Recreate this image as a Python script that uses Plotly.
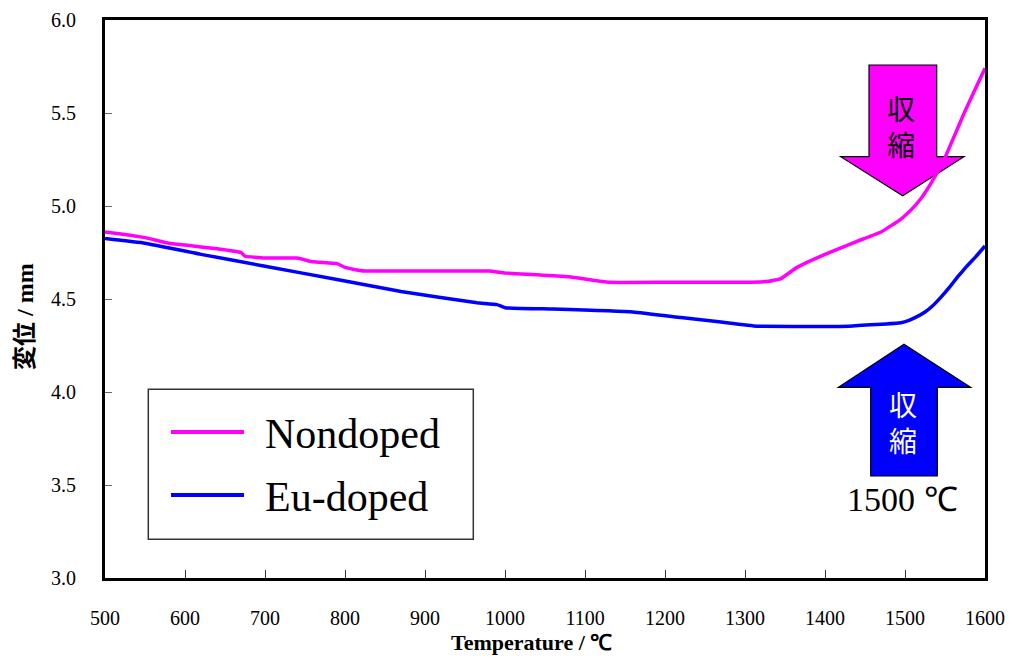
import plotly.graph_objects as go

# ---- data ----
nondoped_T = [500, 520, 550, 580, 600, 640, 670, 675, 700, 740, 760, 790, 800, 810, 825, 830,
              900, 980, 1000, 1040, 1080, 1130, 1200, 1300, 1330, 1345, 1365, 1400, 1440, 1470,
              1495, 1510, 1520, 1535, 1550, 1562, 1575, 1588, 1600]
nondoped_v = [4.86, 4.85, 4.83, 4.80, 4.79, 4.77, 4.75, 4.73, 4.72, 4.72, 4.70, 4.69, 4.67, 4.66,
              4.65, 4.65, 4.65, 4.65, 4.64, 4.63, 4.62, 4.59, 4.59, 4.59, 4.595, 4.61, 4.67, 4.74,
              4.81, 4.86, 4.93, 4.99, 5.04, 5.14, 5.26, 5.38, 5.51, 5.63, 5.74]

eu_T = [500, 550, 620, 700, 790, 870, 965, 990, 1000, 1060, 1160, 1220, 1270, 1315, 1430, 1495,
        1505, 1515, 1525, 1535, 1545, 1556, 1566, 1577, 1588, 1600]
eu_v = [4.825, 4.80, 4.74, 4.676, 4.605, 4.54, 4.48, 4.47, 4.453, 4.446, 4.43, 4.40, 4.376,
        4.354, 4.354, 4.372, 4.385, 4.405, 4.43, 4.465, 4.51, 4.565, 4.62, 4.675, 4.725, 4.785]

x_ticks = [500, 600, 700, 800, 900, 1000, 1100, 1200, 1300, 1400, 1500, 1600]
y_ticks = [3.0, 3.5, 4.0, 4.5, 5.0, 5.5, 6.0]
series_names = ["Nondoped", "Eu-doped"]
series_colors = ["#FF00FF", "#0000FF"]

# ---- layout geometry (pixels) ----
W, H = 1012, 661
L, R, T, B = 105, 985, 20, 578


def px(x):
    return (x - L) / (R - L)


def py(y):
    return (B - y) / (B - T)


SERIF = "Liberation Serif, Times New Roman, serif"
CJK = "Noto Sans CJK JP, sans-serif"

fig = go.Figure()
fig.add_trace(go.Scatter(x=nondoped_T, y=nondoped_v, mode="lines", name=series_names[0],
                         line=dict(color=series_colors[0], width=3.5, shape="spline",
                                   smoothing=0.3), showlegend=False))
fig.add_trace(go.Scatter(x=eu_T, y=eu_v, mode="lines", name=series_names[1],
                         line=dict(color=series_colors[1], width=3.5, shape="spline",
                                   smoothing=0.3), showlegend=False))

shapes = []
annotations = []


def path_px(points):
    return "M" + " L".join(f"{px(a):.5f},{py(b):.5f}" for a, b in points) + " Z"


# magenta down arrow
shapes.append(dict(type="path", xref="paper", yref="paper",
                   path=path_px([(869, 65), (936.7, 65), (936.7, 156.7), (964, 156.7),
                                 (902.7, 195.7), (840.7, 156.7), (869, 156.7)]),
                   fillcolor="#FF00FF", line=dict(color="black", width=1.2), layer="below"))
# blue up arrow
shapes.append(dict(type="path", xref="paper", yref="paper",
                   path=path_px([(904, 344.3), (970.7, 387.3), (937.3, 387.3), (937.3, 476),
                                 (870.7, 476), (870.7, 387.3), (838.3, 387.3)]),
                   fillcolor="#0000FF", line=dict(color="black", width=1.2), layer="below"))

annotations.append(dict(text="収<br>縮", x=px(901), y=py(126), xref="paper", yref="paper",
                        xanchor="center", yanchor="middle", showarrow=False,
                        font=dict(family=CJK, size=28, color="black")))
annotations.append(dict(text="収<br>縮", x=px(903), y=py(422), xref="paper", yref="paper",
                        xanchor="center", yanchor="middle", showarrow=False,
                        font=dict(family=CJK, size=28, color="white")))
annotations.append(dict(text="1500 ℃", x=px(902), y=py(499), xref="paper", yref="paper",
                        xanchor="center", yanchor="middle", showarrow=False,
                        font=dict(family=SERIF, size=34, color="black")))

# manual legend
shapes.append(dict(type="rect", xref="paper", yref="paper",
                   x0=px(148.3), x1=px(473.3), y0=py(539.3), y1=py(389.3),
                   fillcolor="white", line=dict(color="#333333", width=1.5)))
for name, color, ly in zip(series_names, series_colors, [432, 495]):
    shapes.append(dict(type="line", xref="paper", yref="paper",
                       x0=px(171), x1=px(244), y0=py(ly), y1=py(ly),
                       line=dict(color=color, width=4)))
    annotations.append(dict(text=name, x=px(263), y=py(ly + 2), xref="paper", yref="paper",
                            xanchor="left", yanchor="middle", showarrow=False,
                            font=dict(family=SERIF, size=42, color="black")))

# axis titles
annotations.append(dict(text="<b>Temperature / ℃</b>", x=px(531), y=py(642), xref="paper",
                        yref="paper", xanchor="center", yanchor="middle", showarrow=False,
                        font=dict(family=SERIF, size=22, color="black")))
annotations.append(dict(text="<b>変位 / mm</b>", x=px(25), y=py(317), xref="paper",
                        yref="paper", xanchor="center", yanchor="middle", showarrow=False,
                        textangle=-90, font=dict(family=SERIF + ", " + CJK, size=24,
                                                 color="black")))

fig.update_layout(
    width=W, height=H,
    margin=dict(l=L, r=W - R, t=T, b=H - B, pad=0, autoexpand=False),
    paper_bgcolor="white", plot_bgcolor="white",
    shapes=shapes, annotations=annotations,
    showlegend=False,
)
fig.update_xaxes(range=[500, 1600], tickvals=x_ticks, ticktext=[str(v) for v in x_ticks],
                 showgrid=False, zeroline=False, showline=True, linecolor="black",
                 linewidth=3, mirror=True, ticks="inside", ticklen=8, tickwidth=1.2,
                 tickcolor="#333333", ticklabelstandoff=20, automargin=False,
                 tickfont=dict(family=SERIF, size=20, color="black"))
fig.update_yaxes(range=[3.0, 6.0], tickvals=y_ticks, ticktext=[f"{v:.1f}" for v in y_ticks],
                 showgrid=False, zeroline=False, showline=True, linecolor="black",
                 linewidth=3, mirror=True, ticks="inside", ticklen=7, tickwidth=1.2,
                 tickcolor="#666666", ticklabelstandoff=22, automargin=False,
                 tickfont=dict(family=SERIF, size=20, color="black"))

fig.write_html("out.html")
